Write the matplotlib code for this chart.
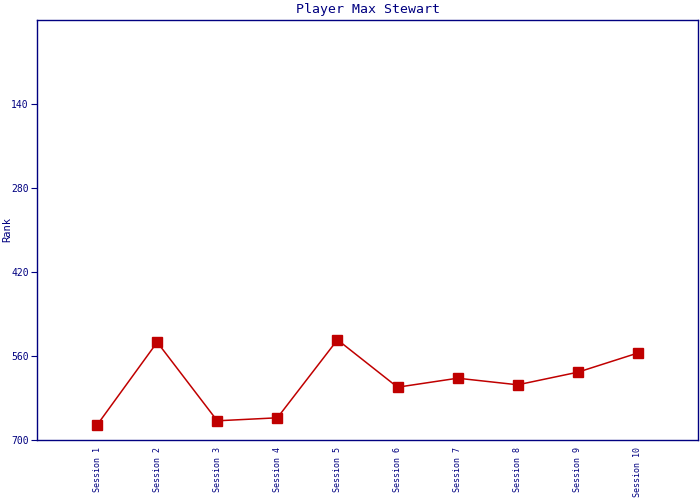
import matplotlib
matplotlib.use('Agg')
import matplotlib.pyplot as plt

sessions = ['Session 1', 'Session 2', 'Session 3', 'Session 4', 'Session 5',
            'Session 6', 'Session 7', 'Session 8', 'Session 9', 'Session 10']
ranks = [675, 537, 668, 663, 533, 612, 597, 608, 587, 555]
y_ticks = [140, 280, 420, 560, 700]

navy = '#000080'
red = '#c00000'

def main():
    fig = plt.figure(figsize=(7, 5), dpi=100)
    ax = fig.add_axes([37 / 700, 60 / 500, 661 / 700, 420 / 500])

    x = list(range(1, len(sessions) + 1))
    ax.plot(x, ranks, color=red, linewidth=1.1, marker='s', markersize=7.5,
            markerfacecolor=red, markeredgecolor=red)

    ax.set_xlim(0, len(sessions) + 1)
    ax.set_ylim(700, 0)
    ax.set_yticks(y_ticks)
    ax.set_yticklabels([str(v) for v in y_ticks], fontsize=7,
                       family='DejaVu Sans Mono', color=navy)
    ax.set_xticks(x)
    ax.set_xticklabels(sessions, rotation=90, fontsize=6,
                       family='DejaVu Sans Mono', color=navy, va='top')
    ax.tick_params(axis='x', length=0, pad=5)
    ax.tick_params(axis='y', length=4, color=navy, pad=2)

    for s in ax.spines.values():
        s.set_color(navy)
        s.set_linewidth(1)

    ax.set_ylabel('Rank', fontsize=7.5, family='DejaVu Sans Mono', color=navy)
    ax.yaxis.set_label_coords(-0.038, 0.5)
    ax.set_title('Player Max Stewart', fontsize=9.5, family='DejaVu Sans Mono',
                 color=navy, pad=5)

    fig.savefig('out.png', dpi=100)

if __name__ == "__main__":
    main()
